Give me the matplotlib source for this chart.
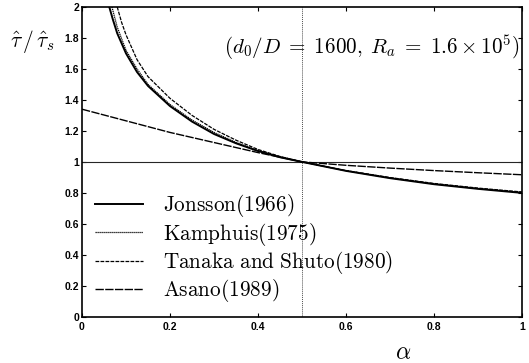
"""Normalised wave friction factor against alpha for four formulae."""
import matplotlib
matplotlib.use("Agg")
import matplotlib.pyplot as plt

plt.rcParams["mathtext.fontset"] = "cm"

# values
alpha_jon = [0.062, 0.07, 0.08, 0.1, 0.125, 0.15, 0.2, 0.25, 0.3, 0.35, 0.4, 0.45, 0.5,
             0.6, 0.7, 0.8, 0.9, 1.0]
tau_jon = [2.0, 1.92, 1.83, 1.70, 1.58, 1.49, 1.36, 1.26, 1.18, 1.12, 1.07, 1.03, 1.0,
           0.942, 0.895, 0.856, 0.826, 0.80]
alpha_kam = [0.068, 0.08, 0.1, 0.125, 0.15, 0.2, 0.25, 0.3, 0.35, 0.4, 0.45, 0.5,
             0.6, 0.7, 0.8, 0.9, 1.0]
tau_kam = [2.0, 1.87, 1.72, 1.60, 1.50, 1.37, 1.27, 1.19, 1.125, 1.073, 1.033, 1.0,
           0.943, 0.897, 0.858, 0.828, 0.803]
alpha_tan = [0.080, 0.09, 0.1, 0.125, 0.15, 0.2, 0.25, 0.3, 0.35, 0.4, 0.45, 0.5,
             0.6, 0.7, 0.8, 0.9, 1.0]
tau_tan = [2.0, 1.90, 1.82, 1.66, 1.55, 1.41, 1.30, 1.21, 1.14, 1.08, 1.035, 1.0,
           0.944, 0.899, 0.861, 0.831, 0.806]
alpha_asa = [0.0, 0.1, 0.2, 0.3, 0.4, 0.5, 0.6, 0.7, 0.8, 0.9, 1.0]
tau_asa = [1.34, 1.265, 1.19, 1.125, 1.06, 1.0, 0.978, 0.96, 0.944, 0.93, 0.917]

xticks = [0, 0.2, 0.4, 0.6, 0.8, 1]
xticklabels = ["0", "0.2", "0.4", "0.6", "0.8", "1"]
yticks = [0, 0.2, 0.4, 0.6, 0.8, 1, 1.2, 1.4, 1.6, 1.8, 2]
yticklabels = ["0", "0.2", "0.4", "0.6", "0.8", "1", "1.2", "1.4", "1.6", "1.8", "2"]

fig = plt.figure(figsize=(5.29, 3.63), dpi=100)
ax = fig.add_axes([0.155, 0.127, 0.832, 0.854])

ax.axhline(1.0, color="0.15", lw=0.8)
ax.axvline(0.5, color="0.3", lw=0.7, ls=(0, (1, 1)))

ax.plot(alpha_jon, tau_jon, color="black", lw=1.4, label=r"$\mathrm{Jonsson(1966)}$")
ax.plot(alpha_kam, tau_kam, color="black", lw=0.9, ls=(0, (1, 0.6)),
        label=r"$\mathrm{Kamphuis(1975)}$")
ax.plot(alpha_tan, tau_tan, color="black", lw=0.9, ls=(0, (3, 1)),
        label=r"$\mathrm{Tanaka\ and\ Shuto(1980)}$")
ax.plot(alpha_asa, tau_asa, color="black", lw=1.0, ls=(0, (6, 1)),
        label=r"$\mathrm{Asano(1989)}$")

ax.set_xlim(0, 1)
ax.set_ylim(0, 2)
ax.set_xticks(xticks)
ax.set_xticklabels(xticklabels)
ax.set_yticks(yticks)
ax.set_yticklabels(yticklabels)
ax.tick_params(direction="in", length=3, width=0.8, labelsize=7.5,
               top=True, right=True, pad=2)
ax.tick_params(axis="x", pad=4)
for lab in ax.get_xticklabels() + ax.get_yticklabels():
    lab.set_fontweight("bold")
    lab.set_family("Liberation Sans")
for sp in ax.spines.values():
    sp.set_linewidth(1.2)

ax.legend(loc="upper left", bbox_to_anchor=(0.01, 0.429), frameon=False,
          fontsize=15.3, handlelength=2.25, handletextpad=0.95, labelspacing=0.06,
          borderaxespad=0)

ax.text(0.995, 0.87, r"$(d_0/D\;=\;1600,\; R_a\;=\;1.6 \times 10^5)$",
        transform=ax.transAxes, ha="right", va="center", fontsize=15.2)
fig.text(0.062, 0.885, r"$\hat{\tau}\,/\,\hat{\tau}_s$", ha="center", va="center",
         fontsize=15.5)
fig.text(0.762, 0.03, r"$\alpha$", ha="center", va="center", fontsize=17)

fig.savefig("out.png", dpi=100)
